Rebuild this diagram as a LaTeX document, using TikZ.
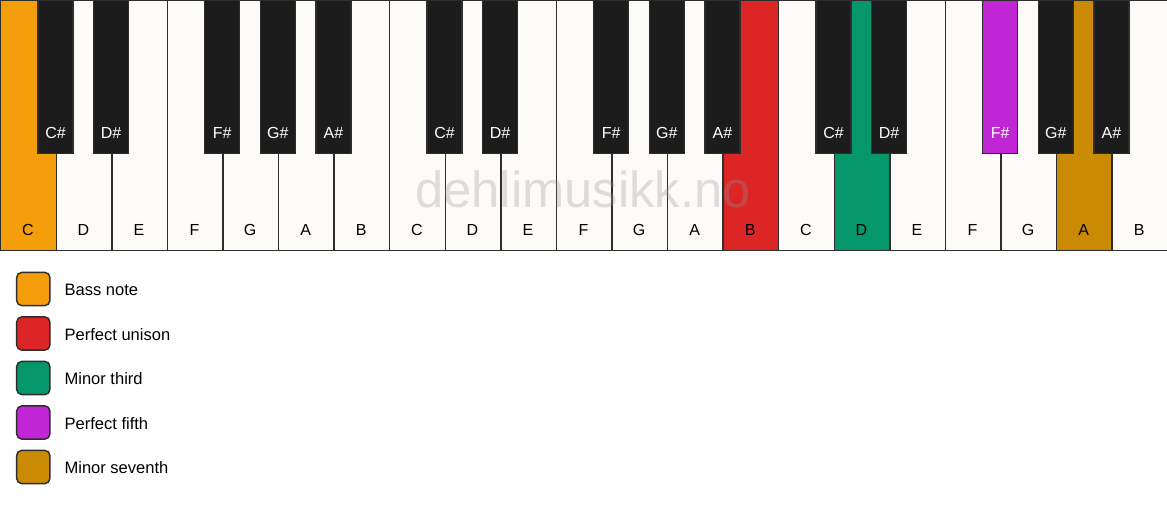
\documentclass[tikz,border=0pt]{standalone}
\usepackage{fontspec}
\setmainfont{Liberation Sans}
\usepackage{tikz}
\definecolor{keywhite}{RGB}{252,251,248}
\definecolor{keyblack}{RGB}{28,28,28}
\definecolor{keyline}{RGB}{45,45,45}
\definecolor{bass}{RGB}{245,158,11}
\definecolor{unison}{RGB}{220,38,38}
\definecolor{third}{RGB}{5,150,105}
\definecolor{fifth}{RGB}{192,38,211}
\definecolor{seventh}{RGB}{202,138,4}
\definecolor{wmgray}{RGB}{150,150,150}

\begin{document}
\begin{tikzpicture}[x=0.75pt,y=-0.75pt,
    white_key/.style={rectangle,draw=keyline,line width=1.1pt,anchor=north west,minimum width=41.68pt,minimum height=187.5pt,inner sep=0},
    black_key/.style={rectangle,draw=keyline,line width=0.9pt,anchor=north,minimum width=26.25pt,minimum height=114.75pt,inner sep=0},
    key_label/.style={font=\fontsize{12}{14}\selectfont,inner sep=0},
    legend_text/.style={font=\fontsize{12.4}{14}\selectfont,inner sep=0,anchor=base west},
    legend_box/.style={rectangle,rounded corners=4pt,draw=keyline,line width=1.1pt,minimum size=25pt,inner sep=0}]
    \useasboundingbox (0,0) rectangle (1167,506);
    % white keys
    \foreach \n/\f [count=\i from 0] in {C/bass,D/keywhite,E/keywhite,F/keywhite,G/keywhite,A/keywhite,B/keywhite,
        C/keywhite,D/keywhite,E/keywhite,F/keywhite,G/keywhite,A/keywhite,B/unison,
        C/keywhite,D/third,E/keywhite,F/keywhite,G/keywhite,A/seventh,B/keywhite} {
        \node[white_key, fill=\f] (w\i) at (\i*55.571, 0) {};
        \node[key_label] (wl\i) at (\i*55.571+27.79, 230) {\n};
    }
    % watermark
    \node[font=\fontsize{38}{42}\selectfont, text=wmgray, text opacity=0.3, anchor=base, inner sep=0] (mark) at (583, 207) {dehlimusikk.no};
    % black keys
    \foreach \p/\n/\f [count=\j] in {1/C/keyblack,2/D/keyblack,4/F/keyblack,5/G/keyblack,6/A/keyblack,
        8/C/keyblack,9/D/keyblack,11/F/keyblack,12/G/keyblack,13/A/keyblack,
        15/C/keyblack,16/D/keyblack,18/F/fifth,19/G/keyblack,20/A/keyblack} {
        \node[black_key, fill=\f] (b\j) at (\p*55.571, 0) {};
        \node[key_label, text=white] (bl\j) at (\p*55.571, 133) {\n\#};
    }
    % legend
    \foreach \f/\t [count=\k from 0] in {bass/Bass note,unison/Perfect unison,third/Minor third,fifth/Perfect fifth,seventh/Minor seventh} {
        \node[legend_box, fill=\f] (box\k) at (33.3, 289+\k*44.5) {};
        \node[legend_text] (entry\k) at (64.3, 295.5+\k*44.5) {\t};
    }
\end{tikzpicture}
\end{document}
